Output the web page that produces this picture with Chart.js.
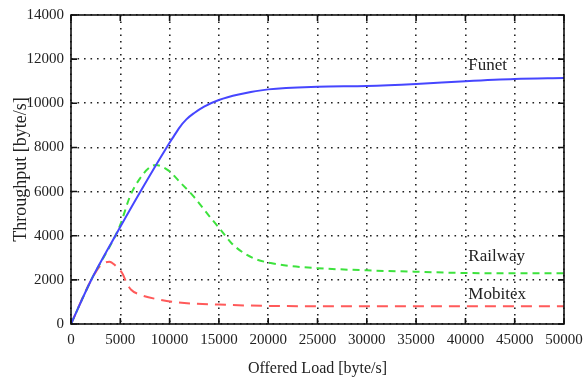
<!DOCTYPE html>
<html>
<head>
<meta charset="utf-8">
<script src="https://cdn.jsdelivr.net/npm/chart.js@4/dist/chart.umd.min.js"></script>
<style>
  html, body { margin:0; padding:0; background:#fff; }
  #wrap { width:585px; height:381px; }
</style>
</head>
<body>
<div id="wrap"><canvas id="chart1" width="585" height="381"></canvas></div>
<script>
// values (offered load -> throughput, byte/s)
let funetX = [0, 2000, 4500, 7000, 9700, 10300, 11000, 11700, 12500, 13500, 15000, 17000, 20000, 25000, 30000, 35000, 40000, 45000, 50000];
let funetY = [0, 1950, 4000, 5970, 8000, 8420, 8900, 9270, 9560, 9850, 10150, 10400, 10630, 10750, 10780, 10870, 11000, 11100, 11140];

let railX = [0, 2000, 4500, 5000, 6000, 7000, 8000, 8600, 9900, 11000, 12450, 14000, 15170, 16300, 17540, 18800, 20250, 22000, 25000, 30000, 35000, 40000, 45000, 50000];
let railY = [0, 1950, 4000, 4500, 5800, 6600, 7100, 7200, 6950, 6450, 5770, 4900, 4270, 3650, 3210, 2930, 2760, 2640, 2530, 2430, 2370, 2310, 2300, 2300];

let mobiX = [0, 2000, 3000, 3900, 4500, 5200, 5600, 6100, 7000, 9000, 10700, 15000, 20000, 30000, 40000, 50000];
let mobiY = [0, 1950, 2650, 2820, 2650, 2300, 1900, 1550, 1330, 1100, 980, 880, 820, 800, 800, 800];

let xTicks = [0, 5000, 10000, 15000, 20000, 25000, 30000, 35000, 40000, 45000, 50000];
let yTicks = [0, 2000, 4000, 6000, 8000, 10000, 12000, 14000];

// curve labels: [text, x, y]
let curveLabels = [["Funet", 40300, 11730], ["Railway", 40300, 3060], ["Mobitex", 40300, 1330]];

function pts(xs, ys){
  return xs.map((x,i)=>({x:x, y:ys[i]}));
}

const serif = "'Liberation Serif', 'DejaVu Serif', serif";

const frame = {
  id:"frame",
  afterDatasetsDraw(chart){
    let c = chart.ctx, a = chart.chartArea;
    let sx = chart.scales.x, sy = chart.scales.y;
    c.save();
    c.strokeStyle = "#111";
    c.lineWidth = 1.6;
    c.strokeRect(a.left, a.top, a.right-a.left, a.bottom-a.top);
    c.beginPath();
    xTicks.forEach(v=>{
      let p = sx.getPixelForValue(v);
      c.moveTo(p, a.bottom); c.lineTo(p, a.bottom-6);
      c.moveTo(p, a.top); c.lineTo(p, a.top+6);
    });
    yTicks.forEach(v=>{
      let p = sy.getPixelForValue(v);
      c.moveTo(a.left, p); c.lineTo(a.left+6, p);
      c.moveTo(a.right, p); c.lineTo(a.right-6, p);
    });
    c.stroke();
    c.fillStyle = "#222";
    c.font = "17px " + serif;
    c.textBaseline = "middle";
    c.textAlign = "left";
    curveLabels.forEach(l=>{
      c.fillText(l[0], sx.getPixelForValue(l[1]), sy.getPixelForValue(l[2]));
    });
    c.restore();
  }
};

const gridStyle = {
  color: "#222",
  lineWidth: 1.6,
  drawTicks: false
};
const gridBorder = { display: false, dash: [1.6, 4.9] };

let chart1 = new Chart(document.getElementById("chart1"), {
  type: "line",
  data: {
    datasets: [
      {label:"Funet", data:pts(funetX, funetY), borderColor:"#4646ff", borderWidth:2, pointRadius:0, cubicInterpolationMode:"monotone", fill:false},
      {label:"Railway", data:pts(railX, railY), borderColor:"#3de23d", borderWidth:2, borderDash:[7,5], pointRadius:0, cubicInterpolationMode:"monotone", fill:false},
      {label:"Mobitex", data:pts(mobiX, mobiY), borderColor:"#ff5a5a", borderWidth:2, borderDash:[11,7], pointRadius:0, cubicInterpolationMode:"monotone", fill:false}
    ]
  },
  options: {
    responsive: false,
    animation: false,
    layout: { padding: { top: 15, right: 21, left: 0, bottom: 0 } },
    plugins: { legend: { display: false }, tooltip: { enabled: false } },
    scales: {
      x: {
        type: "linear", min: 0, max: 50000,
        afterBuildTicks: s => { s.ticks = xTicks.map(v=>({value:v})); },
        afterFit: s => { s.height = 57; s.paddingLeft = 0; s.paddingRight = 0; },
        grid: gridStyle,
        border: gridBorder,
        ticks: { color:"#222", font:{ family: serif, size: 15 }, padding: 7, maxRotation: 0, autoSkip: false, callback: v => String(v) },
        title: { display: true, text: "Offered Load [byte/s]", color:"#222", font:{ family: serif, size: 16 }, padding:{ top: 4, bottom: 3 } }
      },
      y: {
        type: "linear", min: 0, max: 14000,
        afterBuildTicks: s => { s.ticks = yTicks.map(v=>({value:v})); },
        afterFit: s => { s.width = 71; s.paddingTop = 0; s.paddingBottom = 0; },
        grid: gridStyle,
        border: gridBorder,
        ticks: { color:"#222", font:{ family: serif, size: 15 }, padding: 7, autoSkip: false, callback: v => String(v) },
        title: { display: true, text: "Throughput [byte/s]", color:"#222", font:{ family: serif, size: 18 }, padding:{ top: 10, bottom: 0 } }
      }
    }
  },
  plugins: [frame]
});
</script>
</body>
</html>
